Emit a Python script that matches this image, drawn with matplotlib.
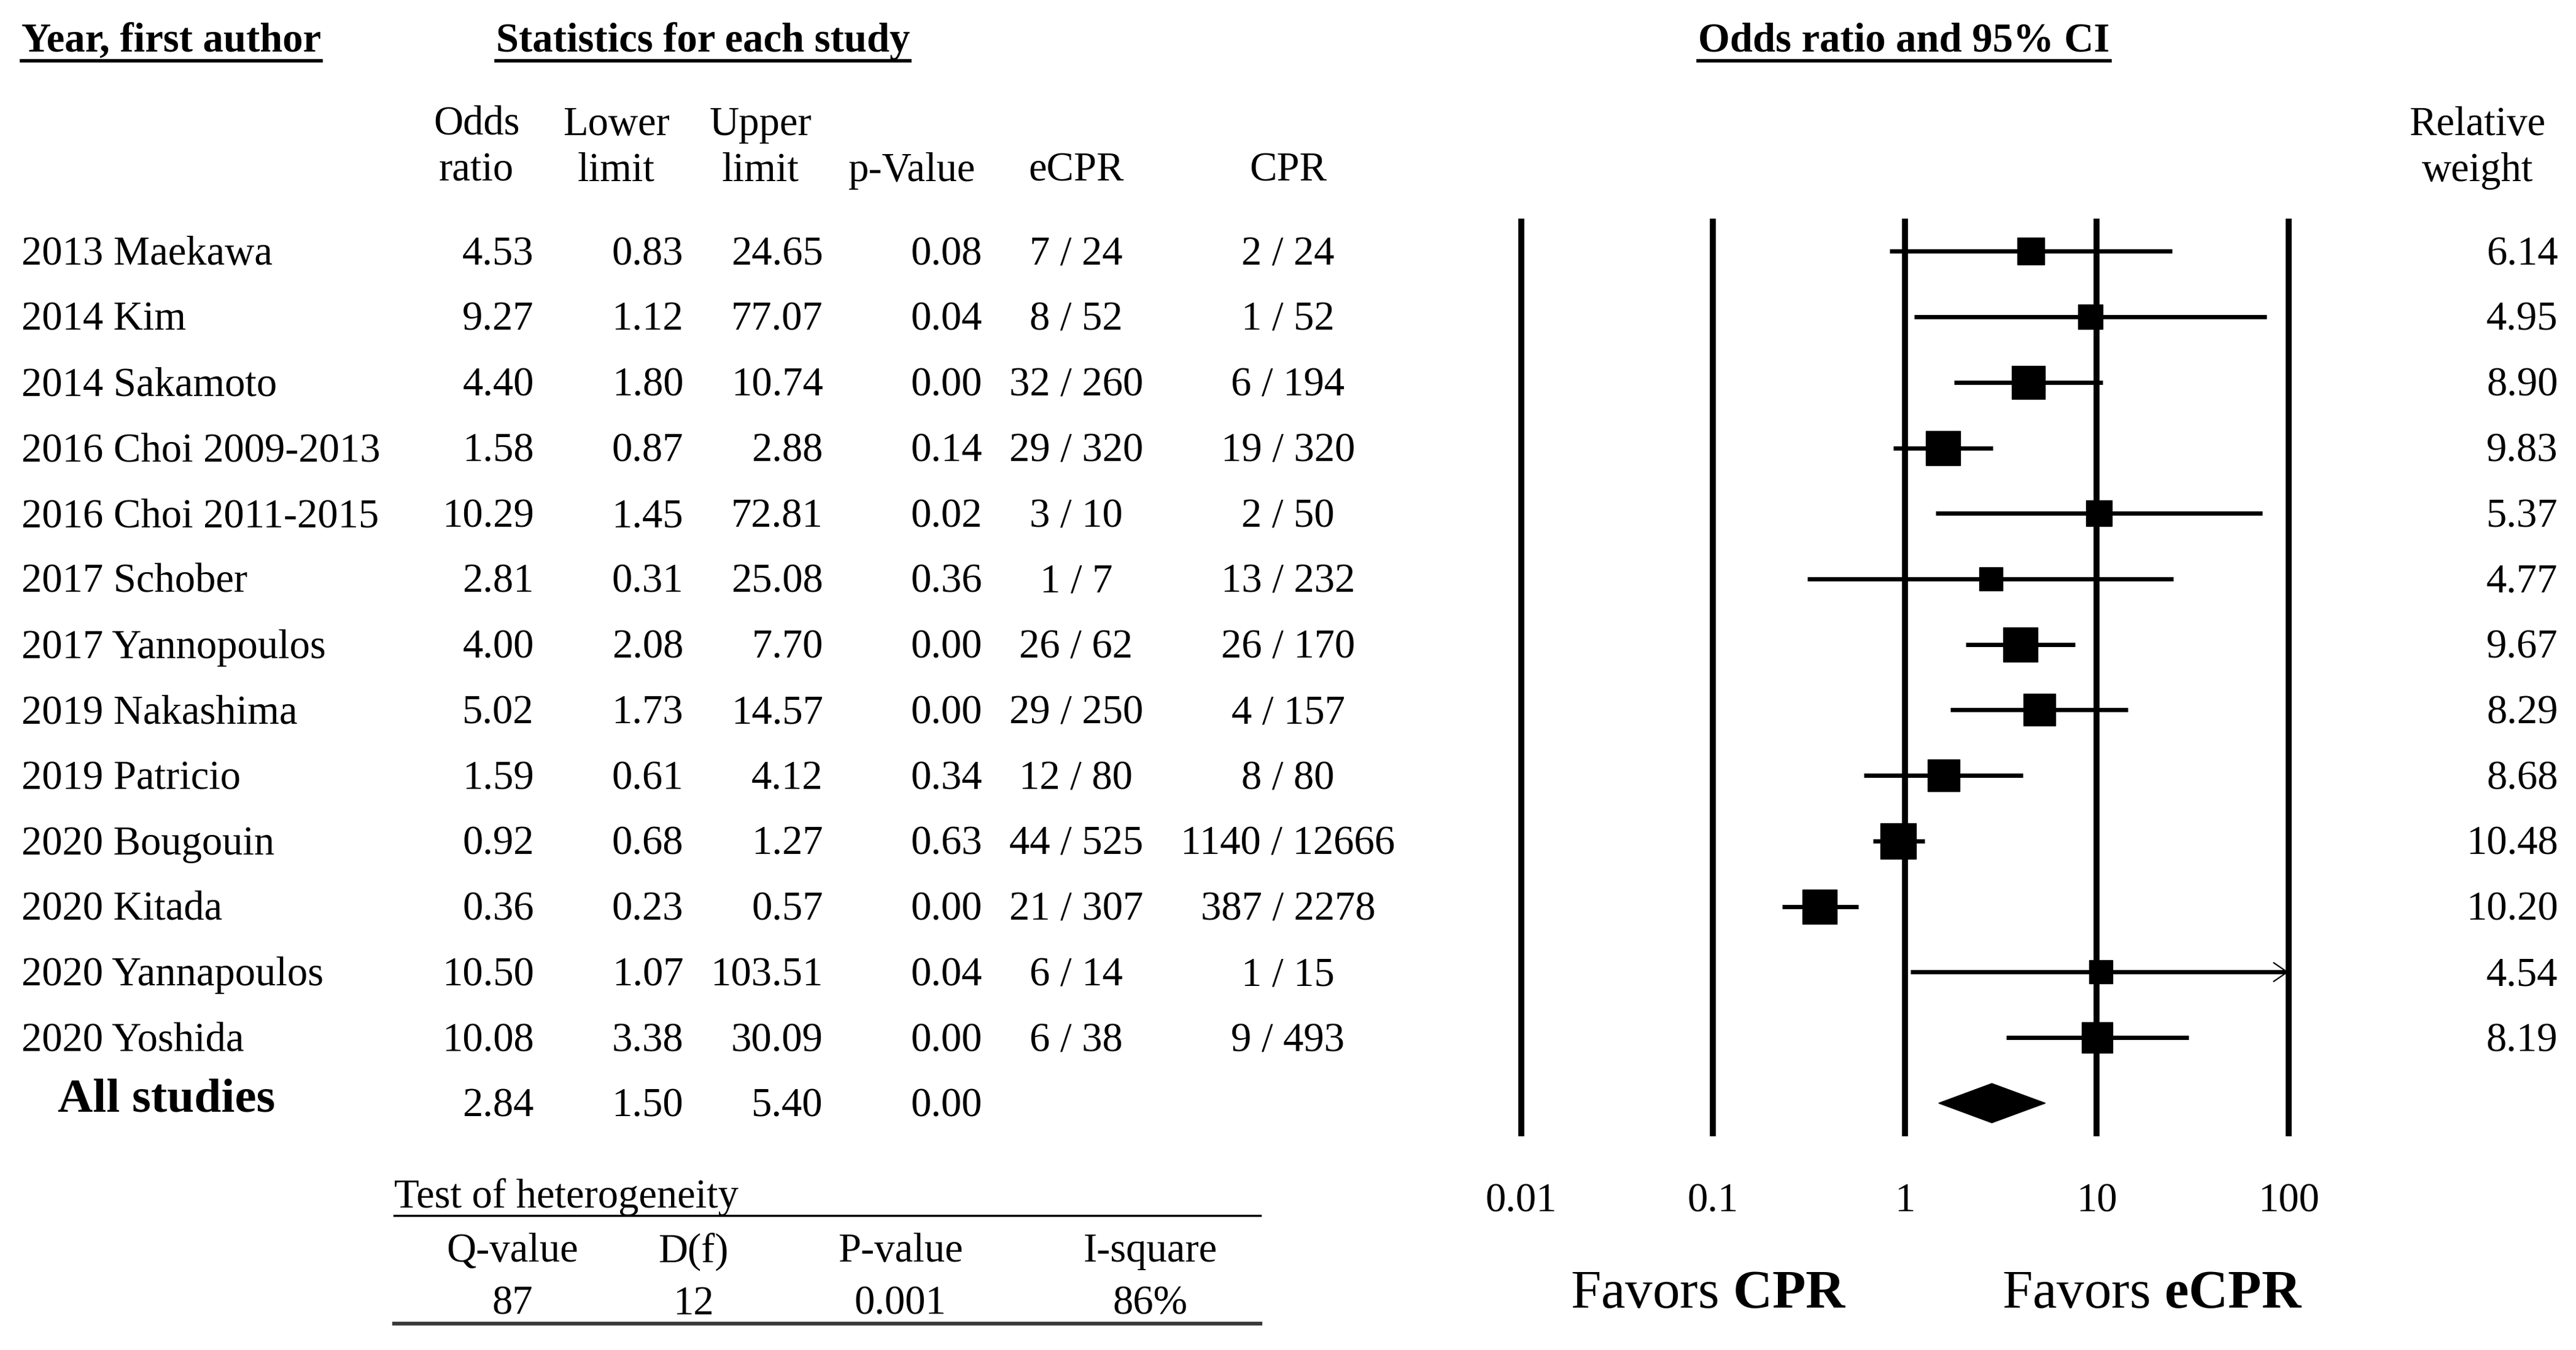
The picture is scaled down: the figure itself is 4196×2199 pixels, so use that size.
import matplotlib
matplotlib.use("Agg")
import matplotlib.pyplot as plt
import numpy as np


plt.rcParams["font.family"] = ["Liberation Serif", "DejaVu Serif"]
plt.rcParams["mathtext.fontset"] = "custom"
plt.rcParams["mathtext.rm"] = "Liberation Serif"
plt.rcParams["mathtext.bf"] = "Liberation Serif:bold"


# =========================================================
# Data
# =========================================================

studies = [
    "2013 Maekawa", "2014 Kim", "2014 Sakamoto", "2016 Choi 2009-2013",
    "2016 Choi 2011-2015", "2017 Schober", "2017 Yannopoulos",
    "2019 Nakashima", "2019 Patricio", "2020 Bougouin", "2020 Kitada",
    "2020 Yannapoulos", "2020 Yoshida",
]
odds_ratio = [4.53, 9.27, 4.40, 1.58, 10.29, 2.81, 4.00, 5.02, 1.59, 0.92, 0.36, 10.50, 10.08]
lower_limit = [0.83, 1.12, 1.80, 0.87, 1.45, 0.31, 2.08, 1.73, 0.61, 0.68, 0.23, 1.07, 3.38]
upper_limit = [24.65, 77.07, 10.74, 2.88, 72.81, 25.08, 7.70, 14.57, 4.12, 1.27, 0.57, 103.51, 30.09]
p_value = [0.08, 0.04, 0.00, 0.14, 0.02, 0.36, 0.00, 0.00, 0.34, 0.63, 0.00, 0.04, 0.00]
ecpr = ["7 / 24", "8 / 52", "32 / 260", "29 / 320", "3 / 10", "1 / 7", "26 / 62",
        "29 / 250", "12 / 80", "44 / 525", "21 / 307", "6 / 14", "6 / 38"]
cpr = ["2 / 24", "1 / 52", "6 / 194", "19 / 320", "2 / 50", "13 / 232", "26 / 170",
       "4 / 157", "8 / 80", "1140 / 12666", "387 / 2278", "1 / 15", "9 / 493"]
weight = [6.14, 4.95, 8.90, 9.83, 5.37, 4.77, 9.67, 8.29, 8.68, 10.48, 10.20, 4.54, 8.19]

all_or = 2.84
all_lower = 1.50
all_upper = 5.40
all_p = 0.00

het_labels = ["Q-value", "D(f)", "P-value", "I-square"]
het_values = ["87", "12", "0.001", "86%"]

axis_ticks = [0.01, 0.1, 1, 10, 100]
axis_labels = ["0.01", "0.1", "1", "10", "100"]


# =========================================================
# Layout helpers (reference measured on a 1568 x 822 grid)
# =========================================================

W, H = 1568, 822
ROW0, ROW_STEP = 153, 39.9
FS = 48
TEXT_DY = 2


def row_of(y):
    return (y - ROW0) / ROW_STEP


fig = plt.figure(figsize=(41.96, 21.99), dpi=100)

ax_t = fig.add_axes([0, 0, 1, 1])
ax_t.set_xlim(0, W)
ax_t.set_ylim(row_of(H), row_of(0))
ax_t.axis("off")


def txt(x, y, s, **kw):
    kw.setdefault("fontsize", FS)
    kw.setdefault("va", "center")
    return ax_t.text(x, row_of(y + TEXT_DY), s, **kw)


# =========================================================
# Headers
# =========================================================

headers = [
    txt(13, 23, "Year, first author", ha="left", fontweight="bold"),
    txt(428, 23, "Statistics for each study", ha="center", fontweight="bold"),
    txt(1159, 23, "Odds ratio and 95% CI", ha="center", fontweight="bold"),
]

txt(290, 88, "Odds\nratio", ha="center", linespacing=1.3)
txt(375, 88, "Lower\nlimit", ha="center", linespacing=1.3)
txt(463, 88, "Upper\nlimit", ha="center", linespacing=1.3)
txt(555, 102, "p-Value", ha="center")
txt(655, 102, "eCPR", ha="center")
txt(784, 102, "CPR", ha="center")
txt(1508, 88, "Relative\nweight", ha="center", linespacing=1.3)


# =========================================================
# Table rows
# =========================================================

for i, name in enumerate(studies):
    y = ROW0 + i * ROW_STEP
    txt(13, y, name, ha="left")
    txt(325, y, f"{odds_ratio[i]:.2f}", ha="right")
    txt(416, y, f"{lower_limit[i]:.2f}", ha="right")
    txt(501, y, f"{upper_limit[i]:.2f}", ha="right")
    txt(598, y, f"{p_value[i]:.2f}", ha="right")
    txt(655, y, ecpr[i], ha="center")
    txt(784, y, cpr[i], ha="center")
    txt(1557, y, f"{weight[i]:.2f}", ha="right")

summary_y = ROW0 + len(studies) * ROW_STEP
txt(35, summary_y - 4, "All studies", ha="left", fontweight="bold", fontsize=57)
txt(325, summary_y, f"{all_or:.2f}", ha="right")
txt(416, summary_y, f"{all_lower:.2f}", ha="right")
txt(501, summary_y, f"{all_upper:.2f}", ha="right")
txt(598, summary_y, f"{all_p:.2f}", ha="right")


# =========================================================
# Heterogeneity box
# =========================================================

txt(240, 727, "Test of heterogeneity", ha="left")
ax_t.plot([240, 767], [row_of(740)] * 2, color="black", lw=2.5)

het_x = [312, 422, 548, 700]
for x, lab, val in zip(het_x, het_labels, het_values):
    txt(x, 760, lab, ha="center")
    txt(x, 792, val, ha="center")

ax_t.plot([240, 767], [row_of(806)] * 2, color="#3a3a3a", lw=4.5)


# =========================================================
# Favors labels
# =========================================================

txt(1040, 786, r"Favors $\mathbf{CPR}$", ha="center", fontsize=64)
txt(1310, 786, r"Favors $\mathbf{eCPR}$", ha="center", fontsize=64)


# =========================================================
# Forest plot
# =========================================================

left, right, top, bottom = 926, 1393, 135, 690

ax_f = fig.add_axes([
    left / W, 1 - bottom / H, (right - left) / W, (bottom - top) / H
])
ax_f.set_facecolor("none")
ax_f.set_xscale("log")
ax_f.set_xlim(axis_ticks[0], axis_ticks[-1])
ax_f.set_ylim(row_of(bottom), row_of(top))

for tick in axis_ticks:
    ax_f.axvline(tick, color="black", lw=7, clip_on=False, zorder=1)

for i in range(len(studies)):
    hi = upper_limit[i]
    if hi > axis_ticks[-1]:
        # CI runs past the axis: stop at the edge and add a thin open arrow head
        ax_f.plot([lower_limit[i], axis_ticks[-1]], [i, i], color="black",
                  lw=5, zorder=3, solid_capstyle="butt")
        ax_f.annotate(
            "",
            xy=(axis_ticks[-1], i),
            xytext=(axis_ticks[-1] * 0.8, i),
            arrowprops=dict(arrowstyle="->, head_length=0.8, head_width=0.55",
                            lw=1.6, color="black", mutation_scale=20,
                            shrinkA=0, shrinkB=0),
            zorder=3,
        )
    else:
        ax_f.plot([lower_limit[i], hi], [i, i], color="black", lw=5, zorder=3,
                  solid_capstyle="butt")
    ax_f.plot(odds_ratio[i], i, marker="s", color="black",
              markersize=12.8 * np.sqrt(weight[i]), zorder=4)

n = len(studies)
ax_f.fill(
    [all_lower, all_or, all_upper, all_or],
    [n, n - 0.3, n, n + 0.3],
    color="black", zorder=4,
)

ax_f.set_xticks(axis_ticks)
ax_f.set_xticklabels(axis_labels)
ax_f.minorticks_off()
ax_f.tick_params(axis="x", length=0, pad=58, labelsize=FS)
ax_f.set_yticks([])
for spine in ax_f.spines.values():
    spine.set_visible(False)


# =========================================================
# Underlines for the bold headers
# =========================================================

fig.canvas.draw()
renderer = fig.canvas.get_renderer()
inv = ax_t.transData.inverted()

for h in headers:
    bb = h.get_window_extent(renderer)
    x0 = inv.transform((bb.x0, bb.y0))[0]
    x1 = inv.transform((bb.x1, bb.y0))[0]
    ax_t.plot([x0, x1], [row_of(37)] * 2, color="black", lw=4)


fig.savefig("out.png", dpi=100)
